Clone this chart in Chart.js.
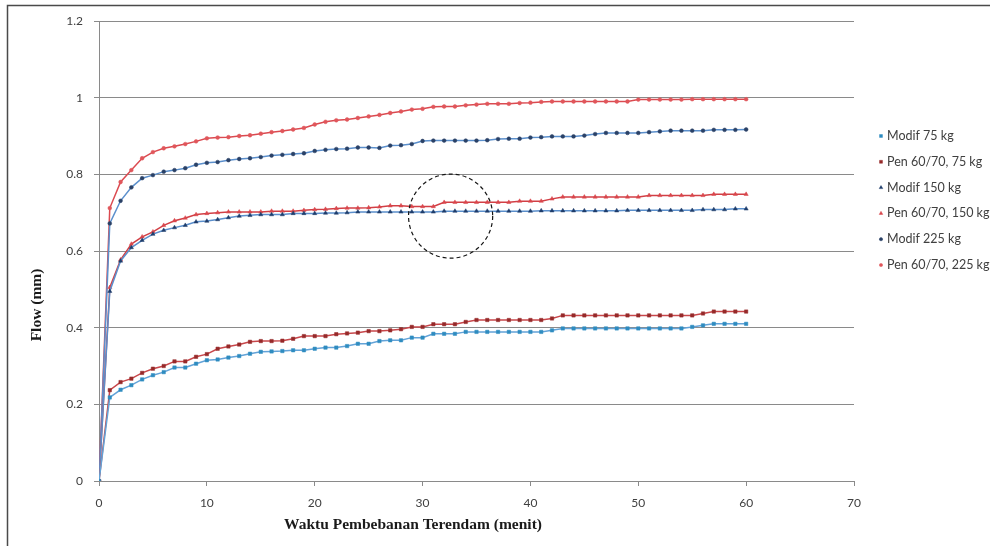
<!DOCTYPE html>
<html>
<head>
<meta charset="utf-8">
<script src="https://cdn.jsdelivr.net/npm/chart.js@4.4.1/dist/chart.umd.min.js"></script>
<style>
  html, body { margin: 0; padding: 0; background: #ffffff; }
  #wrap { position: relative; width: 990px; height: 546px; }
</style>
</head>
<body>
<div id="wrap"><canvas id="flowChart" width="990" height="546"></canvas></div>
<script>
// Loading time in minutes (x values shared by all series)
const minutes = [0,1,2,3,4,5,6,7,8,9,10,11,12,13,14,15,16,17,18,19,20,
  21,22,23,24,25,26,27,28,29,30,31,32,33,34,35,36,37,38,39,40,
  41,42,43,44,45,46,47,48,49,50,51,52,53,54,55,56,57,58,59,60];

// Flow (mm) per series
const modif75 = [0,0.218,0.238,0.250,0.265,0.276,0.284,0.296,0.296,0.306,0.315,
  0.317,0.322,0.326,0.332,0.337,0.338,0.339,0.341,0.341,0.345,
  0.348,0.348,0.352,0.358,0.358,0.365,0.367,0.367,0.374,0.374,
  0.384,0.384,0.384,0.389,0.389,0.389,0.389,0.389,0.389,0.389,
  0.389,0.393,0.398,0.398,0.398,0.398,0.398,0.398,0.398,0.398,
  0.398,0.398,0.398,0.398,0.402,0.406,0.410,0.410,0.410,0.410];

const pen75 = [0,0.237,0.258,0.267,0.282,0.293,0.300,0.312,0.312,0.324,0.331,
  0.345,0.351,0.356,0.363,0.365,0.365,0.366,0.371,0.378,0.378,
  0.378,0.383,0.385,0.387,0.391,0.391,0.393,0.396,0.402,0.402,
  0.409,0.409,0.409,0.415,0.420,0.420,0.420,0.420,0.420,0.420,
  0.420,0.424,0.432,0.432,0.432,0.432,0.432,0.432,0.432,0.432,
  0.432,0.432,0.432,0.432,0.432,0.437,0.442,0.442,0.442,0.442];

const modif150 = [0,0.495,0.574,0.609,0.628,0.644,0.654,0.661,0.667,0.676,0.678,
  0.682,0.687,0.691,0.693,0.695,0.695,0.695,0.698,0.698,0.698,
  0.699,0.699,0.700,0.702,0.702,0.702,0.702,0.702,0.702,0.702,
  0.702,0.704,0.704,0.704,0.704,0.704,0.704,0.704,0.704,0.704,
  0.705,0.705,0.705,0.705,0.705,0.705,0.705,0.705,0.706,0.706,
  0.706,0.706,0.706,0.706,0.706,0.708,0.708,0.708,0.710,0.710];

const pen150 = [0,0.505,0.577,0.618,0.637,0.650,0.667,0.679,0.686,0.695,0.698,
  0.700,0.702,0.702,0.702,0.702,0.704,0.704,0.704,0.706,0.708,
  0.709,0.711,0.712,0.712,0.713,0.715,0.718,0.718,0.716,0.716,
  0.716,0.727,0.727,0.727,0.727,0.727,0.727,0.727,0.730,0.730,
  0.730,0.736,0.741,0.741,0.741,0.741,0.741,0.741,0.741,0.741,
  0.745,0.745,0.745,0.745,0.745,0.745,0.748,0.748,0.748,0.748];

const modif225 = [0,0.672,0.731,0.766,0.790,0.798,0.807,0.811,0.816,0.825,0.830,
  0.832,0.837,0.840,0.842,0.845,0.849,0.851,0.853,0.855,0.861,
  0.864,0.866,0.867,0.870,0.870,0.869,0.875,0.876,0.879,0.887,
  0.888,0.888,0.888,0.888,0.888,0.889,0.892,0.893,0.893,0.896,
  0.897,0.899,0.899,0.899,0.901,0.905,0.908,0.908,0.908,0.908,
  0.910,0.912,0.914,0.914,0.914,0.914,0.916,0.916,0.916,0.917];

const pen225 = [0,0.712,0.780,0.811,0.842,0.858,0.868,0.873,0.879,0.886,0.894,
  0.896,0.897,0.900,0.902,0.906,0.910,0.913,0.917,0.921,0.930,
  0.937,0.941,0.943,0.947,0.951,0.955,0.960,0.964,0.969,0.971,
  0.976,0.977,0.977,0.980,0.982,0.984,0.984,0.984,0.986,0.987,
  0.989,0.990,0.990,0.990,0.990,0.990,0.990,0.990,0.990,0.995,
  0.995,0.995,0.995,0.995,0.996,0.996,0.996,0.996,0.996,0.996];

const seriesLabels = ['Modif 75 kg', 'Pen 60/70, 75 kg', 'Modif 150 kg',
  'Pen 60/70, 150 kg', 'Modif 225 kg', 'Pen 60/70, 225 kg'];

const xTicks = [0, 10, 20, 30, 40, 50, 60, 70];
const yTicks = [0, 0.2, 0.4, 0.6, 0.8, 1, 1.2];
const yTickLabels = ['0', '0.2', '0.4', '0.6', '0.8', '1', '1.2'];

const xTitle = 'Waktu Pembebanan Terendam (menit)';
const yTitle = 'Flow (mm)';

// Highlight ring around the step in the 150 kg curves (minutes, mm)
const ringCenter = [32.6, 0.691];
const ringRadiusMinutes = 3.9;

const TICK_FONT = { family: 'Lato, "Open Sans", sans-serif', size: 12 };
const TICK_COLOR = '#404040';
const GRID_COLOR = '#8a8a8a';

function pts(ys) {
  return minutes.map((m, i) => ({ x: m, y: ys[i] }));
}

function series(label, ys, lineColor, pointColor, style, radius) {
  return {
    label: label,
    data: pts(ys),
    borderColor: lineColor,
    backgroundColor: pointColor,
    borderWidth: 1.5,
    pointStyle: style,
    pointRadius: radius,
    pointBackgroundColor: pointColor,
    pointBorderColor: pointColor,
    pointBorderWidth: 0.5,
    tension: 0,
    fill: false
  };
}

const datasets = [
  series(seriesLabels[0], modif75, '#63a3d8', '#2f8cc0', 'rect', 2.4),
  series(seriesLabels[1], pen75, '#c8474b', '#962a2a', 'rect', 2.4),
  series(seriesLabels[2], modif150, '#5b8fcc', '#1f3d6b', 'triangle', 2.4),
  series(seriesLabels[3], pen150, '#d23f45', '#d9474c', 'triangle', 2.4),
  series(seriesLabels[4], modif225, '#5b8fcc', '#2a4166', 'circle', 1.9),
  series(seriesLabels[5], pen225, '#db4a50', '#e0565b', 'circle', 1.9)
];

// Outer frame and white background
const framePlugin = {
  id: 'frame',
  beforeDraw(chart) {
    const ctx = chart.ctx;
    ctx.save();
    ctx.fillStyle = '#ffffff';
    ctx.fillRect(0, 0, chart.width, chart.height);
    ctx.strokeStyle = '#4a4a4a';
    ctx.lineWidth = 1.5;
    ctx.strokeRect(7.5, 5.5, chart.width + 20, chart.height + 20);
    ctx.restore();
  }
};

// Axis titles placed at fixed spots beside the plot
const axisTitlePlugin = {
  id: 'axisTitles',
  afterDraw(chart) {
    const ctx = chart.ctx;
    ctx.save();
    ctx.fillStyle = '#1a1a1a';
    ctx.font = 'bold 15.5px "Liberation Serif", "Times New Roman", serif';
    ctx.textAlign = 'center';
    ctx.textBaseline = 'middle';
    ctx.fillText(xTitle, 413, 525);
    ctx.translate(37, 305);
    ctx.rotate(-Math.PI / 2);
    ctx.fillText(yTitle, 0, 0);
    ctx.restore();
  }
};

// Dashed ring drawn in data space
const ringPlugin = {
  id: 'ring',
  afterDatasetsDraw(chart) {
    const xs = chart.scales.x, ys = chart.scales.y;
    const cx = xs.getPixelForValue(ringCenter[0]);
    const cy = ys.getPixelForValue(ringCenter[1]);
    const r = xs.getPixelForValue(ringCenter[0] + ringRadiusMinutes) - cx;
    const ctx = chart.ctx;
    ctx.save();
    ctx.strokeStyle = '#151515';
    ctx.lineWidth = 1.2;
    ctx.setLineDash([4, 3]);
    ctx.beginPath();
    ctx.arc(cx, cy, r, 0, Math.PI * 2);
    ctx.stroke();
    ctx.restore();
  }
};

// Vertical legend on the right
const legendPlugin = {
  id: 'sideLegend',
  afterDraw(chart) {
    const ctx = chart.ctx;
    const x0 = 881, y0 = 136, step = 25.8;
    ctx.save();
    chart.data.datasets.forEach((ds, i) => {
      const y = y0 + i * step;
      ctx.fillStyle = ds.pointBackgroundColor;
      ctx.strokeStyle = ds.pointBorderColor;
      ctx.lineWidth = 0.5;
      Chart.helpers.drawPoint(ctx, {
        pointStyle: ds.pointStyle,
        radius: ds.pointRadius * 0.85,
        rotation: 0,
        borderWidth: 0.5
      }, x0, y);
      ctx.fillStyle = TICK_COLOR;
      ctx.font = '12.5px Lato, "Open Sans", sans-serif';
      ctx.textAlign = 'left';
      ctx.textBaseline = 'middle';
      ctx.fillText(ds.label, x0 + 6, y);
    });
    ctx.restore();
  }
};

new Chart(document.getElementById('flowChart'), {
  type: 'line',
  data: { datasets: datasets },
  options: {
    responsive: false,
    animation: false,
    devicePixelRatio: 1,
    layout: { padding: { left: 0, right: 136, top: 21, bottom: 0 } },
    plugins: {
      legend: { display: false },
      tooltip: { enabled: false }
    },
    scales: {
      x: {
        type: 'linear',
        min: 0,
        max: 70,
        afterBuildTicks(scale) { scale.ticks = xTicks.map(v => ({ value: v })); },
        afterFit(scale) { scale.height = 65; },
        ticks: { font: TICK_FONT, color: TICK_COLOR, padding: 10, maxRotation: 0, autoSkip: false },
        grid: { drawOnChartArea: false, drawTicks: true, tickLength: 5, color: GRID_COLOR },
        border: { display: true, color: GRID_COLOR, width: 1 }
      },
      y: {
        type: 'linear',
        min: 0,
        max: 1.2,
        afterBuildTicks(scale) { scale.ticks = yTicks.map(v => ({ value: v })); },
        afterFit(scale) { scale.width = 99; },
        ticks: {
          font: TICK_FONT, color: TICK_COLOR, padding: 11, autoSkip: false,
          callback: (v, i) => yTickLabels[i]
        },
        grid: { color: GRID_COLOR, lineWidth: 1, drawTicks: true, tickLength: 5 },
        border: { display: true, color: GRID_COLOR, width: 1 }
      }
    }
  },
  plugins: [framePlugin, ringPlugin, axisTitlePlugin, legendPlugin]
});
</script>
</body>
</html>
